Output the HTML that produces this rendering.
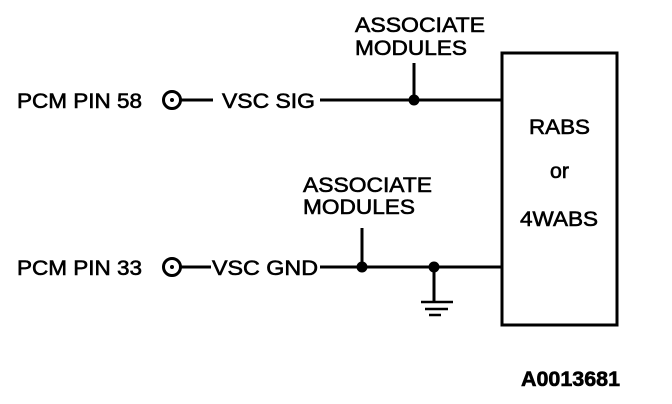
<!DOCTYPE html>
<html><head><style>html,body{margin:0;padding:0;background:#fff}svg{display:block}</style></head>
<body>
<svg width="672" height="404" viewBox="0 0 672 404" xmlns="http://www.w3.org/2000/svg" font-family="Liberation Sans, sans-serif" font-size="21" fill="#000" stroke="#000" stroke-width="0">
<rect x="502" y="53" width="115" height="272" fill="none" stroke="#000" stroke-width="3"/>
<!-- line 1 -->
<circle cx="172" cy="100" r="8.5" fill="none" stroke="#000" stroke-width="3"/>
<circle cx="172" cy="100" r="2" fill="#000"/>
<line x1="181" y1="100" x2="213" y2="100" stroke="#000" stroke-width="3"/>
<line x1="320" y1="100" x2="502" y2="100" stroke="#000" stroke-width="3"/>
<line x1="414" y1="63" x2="414" y2="100" stroke="#000" stroke-width="3"/>
<circle cx="414" cy="100" r="5.5"/>
<!-- line 2 -->
<circle cx="172" cy="267" r="8.5" fill="none" stroke="#000" stroke-width="3"/>
<circle cx="172" cy="267" r="2" fill="#000"/>
<line x1="181" y1="267" x2="211" y2="267" stroke="#000" stroke-width="3"/>
<line x1="320" y1="267" x2="502" y2="267" stroke="#000" stroke-width="3"/>
<line x1="362" y1="228" x2="362" y2="267" stroke="#000" stroke-width="3"/>
<circle cx="362" cy="267" r="5.5"/>
<circle cx="434" cy="267" r="5.5"/>
<line x1="434" y1="267" x2="434" y2="302" stroke="#000" stroke-width="3"/>
<line x1="421" y1="302" x2="453" y2="302" stroke="#000" stroke-width="2.5"/>
<line x1="425" y1="309" x2="448" y2="309" stroke="#000" stroke-width="2.5"/>
<line x1="429" y1="315" x2="441" y2="315" stroke="#000" stroke-width="2.5"/>
<!-- text -->
<g stroke-width="0.6">
<text x="17" y="108" textLength="125" lengthAdjust="spacingAndGlyphs">PCM PIN 58</text>
<text x="222" y="108" textLength="93" lengthAdjust="spacingAndGlyphs">VSC SIG</text>
<text x="17" y="275" textLength="125" lengthAdjust="spacingAndGlyphs">PCM PIN 33</text>
<text x="212" y="275" textLength="106" lengthAdjust="spacingAndGlyphs">VSC GND</text>
<text x="355" y="32" textLength="130" lengthAdjust="spacingAndGlyphs">ASSOCIATE</text>
<text x="355" y="55" textLength="112" lengthAdjust="spacingAndGlyphs">MODULES</text>
<text x="303" y="192" textLength="129" lengthAdjust="spacingAndGlyphs">ASSOCIATE</text>
<text x="303" y="214" textLength="112" lengthAdjust="spacingAndGlyphs">MODULES</text>
<text x="529" y="134" textLength="61" lengthAdjust="spacingAndGlyphs">RABS</text>
<text x="550" y="178" textLength="19" lengthAdjust="spacingAndGlyphs">or</text>
<text x="520" y="226" textLength="78" lengthAdjust="spacingAndGlyphs">4WABS</text>
<text x="521" y="386" font-weight="bold" textLength="99" lengthAdjust="spacingAndGlyphs">A0013681</text>
</g>
</svg>
</body></html>
